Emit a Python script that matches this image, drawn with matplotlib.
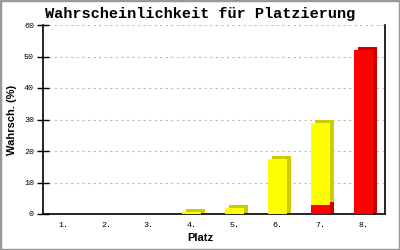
# Wahrscheinlichkeit fuer Platzierung - stacked bars with fake 3D shading
import numpy as np
import matplotlib
matplotlib.use('Agg')
import matplotlib.pyplot as plt
import matplotlib.transforms as mtransforms
from matplotlib.patches import Rectangle

places = ['1.', '2.', '3.', '4.', '5.', '6.', '7.', '8.']
red_vals = [0, 0, 0, 0, 0, 0, 2.7, 52.0]
yellow_vals = [0, 0, 0, 0.5, 2.0, 17.5, 26.3, 0]
yticks = [0, 10, 20, 30, 40, 50, 60]

red = '#ff0000'
red_dark = '#cc0000'
yellow = '#ffff00'
yellow_dark = '#cccc00'

fig = plt.figure(figsize=(4, 2.5), dpi=100)
fig.patch.set_facecolor('white')
ax = fig.add_axes([0.1075, 0.144, 0.855, 0.756])

x = np.arange(1, len(places) + 1)
red_arr = np.array(red_vals)
yel_arr = np.array(yellow_vals)
w = 0.45

# shaded copies shifted right/up a few pixels
shade = mtransforms.offset_copy(ax.transData, fig=fig, x=4, y=3, units='dots')
r_bottom = np.where(red_arr > 0, -3, 0)
y_bottom = np.where(red_arr > 0, red_arr, -3)
ax.bar(x, np.where(red_arr > 0, red_arr + 3, 0), w, bottom=r_bottom,
       color=red_dark, transform=shade, zorder=2, linewidth=0)
ax.bar(x, np.where(yel_arr > 0, yel_arr + red_arr - y_bottom, 0), w, bottom=y_bottom,
       color=yellow_dark, transform=shade, zorder=2, linewidth=0)

# front faces
ax.bar(x, red_arr, w, color=red, zorder=3, linewidth=0)
ax.bar(x, yel_arr, w, bottom=red_arr, color=yellow, zorder=3, linewidth=0)

ax.set_xlim(0.53, 8.51)
ax.set_ylim(0, 60)
ax.set_xticks(x)
ax.set_xticklabels(places, family='Liberation Mono', fontsize=6)
ax.set_yticks(yticks)
ax.set_yticklabels([str(v) for v in yticks], family='Liberation Mono', fontsize=6)
ax.tick_params(axis='x', length=0, pad=6)
ax.tick_params(axis='y', direction='inout', length=9, width=1, pad=2)

ax.yaxis.grid(True, linestyle=(0, (2, 3)), color='#bbbbbb', linewidth=0.8, zorder=0)
ax.set_axisbelow(True)
ax.spines['top'].set_visible(False)
for s in ['left', 'right', 'bottom']:
    ax.spines[s].set_linewidth(1.2)
    ax.spines[s].set_color('black')

fig.text(0.5, 0.944, 'Wahrscheinlichkeit für Platzierung', ha='center', va='center',
         family='Liberation Mono', fontsize=11, fontweight='bold')
fig.text(0.5, 0.048, 'Platz', ha='center', va='center',
         family='Liberation Sans', fontsize=8, fontweight='bold')
fig.text(0.03, 0.52, 'Wahrsch. (%)', ha='center', va='center', rotation=90,
         family='Liberation Sans', fontsize=8, fontweight='bold')

# grey border round the picture
fig.patches.append(Rectangle((0, 0), 1, 1, transform=fig.transFigure, fill=False,
                             edgecolor='#999999', linewidth=2.5))

fig.savefig('out.png', dpi=100)
